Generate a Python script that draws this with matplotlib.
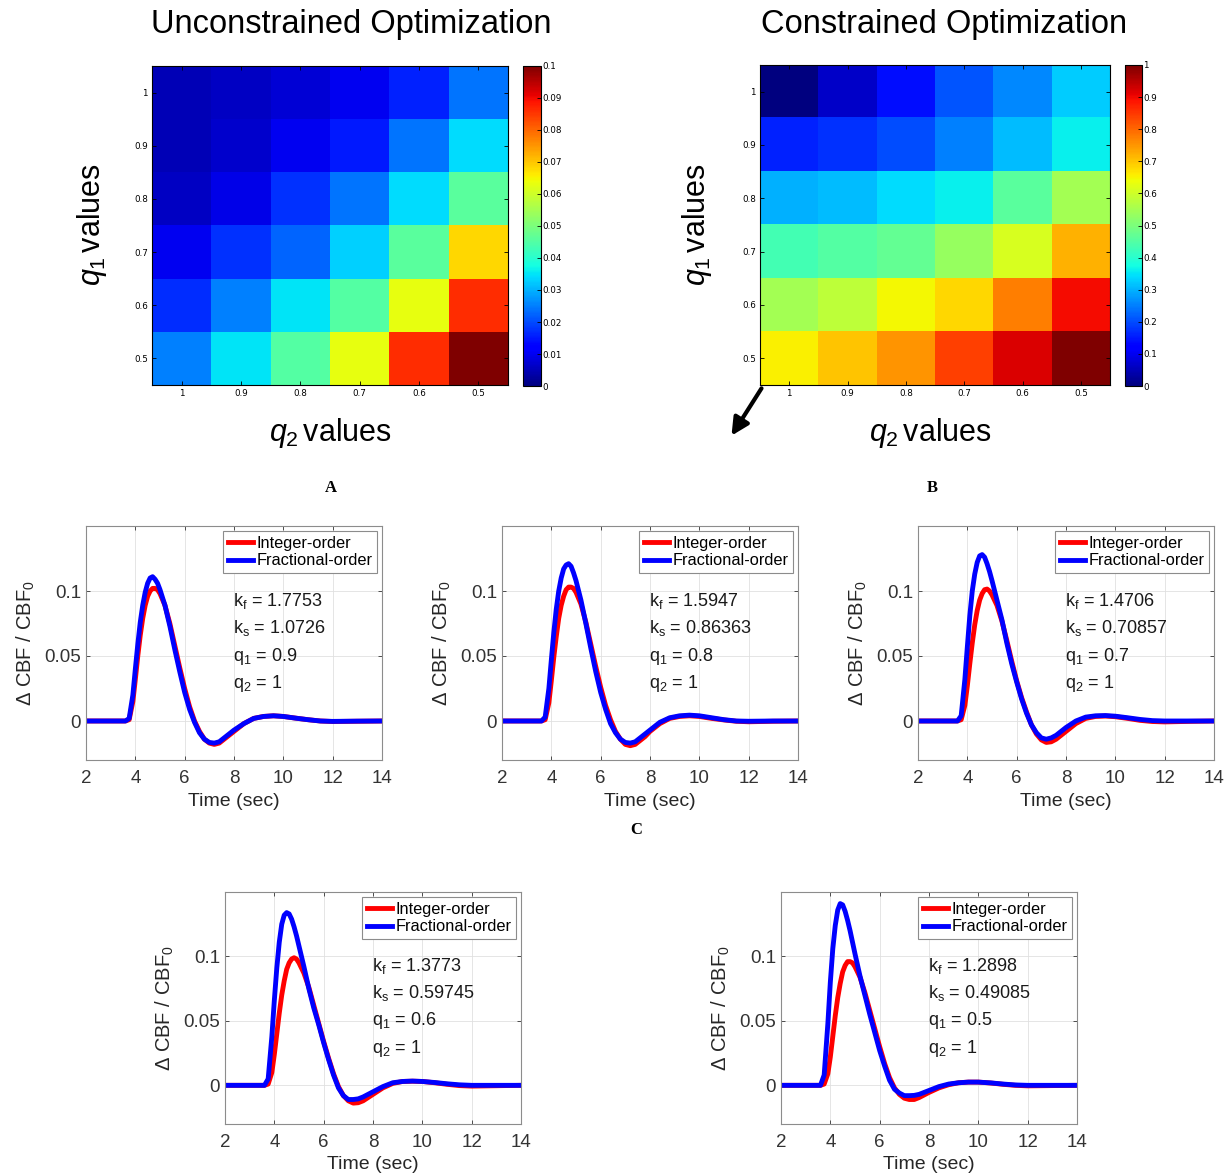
import numpy as np
import matplotlib
matplotlib.use('Agg')
import matplotlib.pyplot as plt
from matplotlib.patches import FancyArrowPatch

plt.rcParams['font.family'] = ['Liberation Sans', 'DejaVu Sans']
plt.rcParams['mathtext.fontset'] = 'custom'
plt.rcParams['mathtext.rm'] = 'Liberation Sans'
plt.rcParams['mathtext.it'] = 'Liberation Sans:italic'
plt.rcParams['mathtext.default'] = 'regular'

# heatmap data (rows: q1 = 1 ... 0.5, cols: q2 = 1 ... 0.5)
q1_labels = ['1', '0.9', '0.8', '0.7', '0.6', '0.5']
q2_labels = ['1', '0.9', '0.8', '0.7', '0.6', '0.5']
unconstrained = [
    [0.005, 0.006, 0.0075, 0.010, 0.016, 0.024],
    [0.005, 0.007, 0.010, 0.015, 0.024, 0.034],
    [0.006, 0.009, 0.0175, 0.024, 0.034, 0.046],
    [0.010, 0.0175, 0.0225, 0.033, 0.046, 0.068],
    [0.017, 0.025, 0.035, 0.045, 0.063, 0.086],
    [0.025, 0.035, 0.045, 0.063, 0.086, 0.100],
]
constrained = [
    [0.00, 0.066, 0.14, 0.21, 0.26, 0.325],
    [0.16, 0.175, 0.20, 0.25, 0.31, 0.36],
    [0.30, 0.31, 0.34, 0.36, 0.46, 0.55],
    [0.43, 0.45, 0.47, 0.535, 0.61, 0.72],
    [0.55, 0.58, 0.645, 0.68, 0.775, 0.895],
    [0.655, 0.70, 0.75, 0.84, 0.92, 1.00],
]

# time response data
t = [2, 3, 3.6, 3.75, 3.9, 4.0, 4.1, 4.2, 4.3, 4.4, 4.5, 4.6, 4.7, 4.8, 4.9,
     5.0, 5.2, 5.4, 5.6, 5.8, 6.0, 6.2, 6.4, 6.6, 6.8, 7.0, 7.2, 7.4, 7.6,
     7.8, 8.0, 8.4, 8.8, 9.2, 9.6, 10.0, 10.5, 11.0, 11.5, 12.0, 13.0, 14.0]

int_q09 = [0, 0, 0, 0.001, 0.015, 0.032, 0.050, 0.066, 0.079, 0.089, 0.096, 0.100, 0.102, 0.102, 0.101,
           0.098, 0.089, 0.075, 0.058, 0.041, 0.025, 0.011, 0.000, -0.008, -0.014, -0.017, -0.018, -0.017, -0.014,
           -0.011, -0.008, -0.002, 0.002, 0.0035, 0.004, 0.0035, 0.0022, 0.001, 0.0, -0.0004, -0.0002, 0]
frac_q09 = [0, 0, 0, 0.002, 0.020, 0.040, 0.059, 0.076, 0.089, 0.099, 0.106, 0.110, 0.111, 0.109, 0.106,
            0.101, 0.089, 0.073, 0.055, 0.038, 0.022, 0.009, -0.001, -0.009, -0.014, -0.0165, -0.017, -0.016, -0.013,
            -0.010, -0.007, -0.002, 0.002, 0.0035, 0.004, 0.0035, 0.0022, 0.001, 0.0, -0.0003, -0.0001, 0]

int_q08 = [0, 0, 0, 0.001, 0.014, 0.031, 0.049, 0.065, 0.079, 0.089, 0.096, 0.101, 0.103, 0.103, 0.102,
           0.099, 0.090, 0.076, 0.059, 0.042, 0.026, 0.012, 0.001, -0.008, -0.014, -0.018, -0.019, -0.018, -0.015,
           -0.012, -0.008, -0.002, 0.002, 0.0035, 0.004, 0.0035, 0.002, 0.0008, -0.0002, -0.0006, -0.0002, 0]
frac_q08 = [0, 0, 0, 0.003, 0.025, 0.047, 0.068, 0.086, 0.100, 0.110, 0.117, 0.120, 0.121, 0.119, 0.114,
            0.108, 0.093, 0.075, 0.056, 0.038, 0.022, 0.009, -0.002, -0.009, -0.014, -0.0165, -0.017, -0.016, -0.013,
            -0.010, -0.007, -0.001, 0.0025, 0.004, 0.0045, 0.004, 0.0025, 0.001, 0.0, -0.0002, 0, 0]

int_q07 = [0, 0, 0, 0.001, 0.012, 0.027, 0.044, 0.060, 0.074, 0.085, 0.093, 0.098, 0.101, 0.1015, 0.100,
           0.097, 0.089, 0.077, 0.062, 0.046, 0.031, 0.018, 0.007, -0.003, -0.010, -0.0145, -0.0165, -0.016, -0.014,
           -0.011, -0.008, -0.002, 0.002, 0.0035, 0.0038, 0.0033, 0.002, 0.0005, -0.0004, -0.0007, -0.0003, 0]
frac_q07 = [0, 0, 0, 0.004, 0.032, 0.057, 0.081, 0.100, 0.113, 0.122, 0.127, 0.128, 0.126, 0.121, 0.115,
            0.108, 0.093, 0.078, 0.060, 0.044, 0.030, 0.017, 0.006, -0.003, -0.009, -0.013, -0.014, -0.013, -0.011,
            -0.008, -0.005, 0.0, 0.003, 0.004, 0.0042, 0.0037, 0.0025, 0.0012, 0.0003, 0, 0, 0]

int_q06 = [0, 0, 0, 0.001, 0.010, 0.024, 0.040, 0.056, 0.070, 0.081, 0.090, 0.095, 0.098, 0.099, 0.098,
           0.095, 0.087, 0.076, 0.062, 0.048, 0.034, 0.021, 0.009, -0.001, -0.008, -0.012, -0.0138, -0.0135, -0.012,
           -0.0095, -0.007, -0.002, 0.0015, 0.003, 0.0032, 0.003, 0.002, 0.0008, -0.0002, -0.0006, -0.0003, 0]
frac_q06 = [0, 0, 0, 0.005, 0.038, 0.066, 0.091, 0.111, 0.125, 0.132, 0.134, 0.133, 0.129, 0.123, 0.116,
            0.108, 0.092, 0.075, 0.060, 0.047, 0.033, 0.020, 0.008, -0.002, -0.008, -0.011, -0.011, -0.0105, -0.009,
            -0.007, -0.005, -0.001, 0.002, 0.003, 0.0033, 0.003, 0.0022, 0.0012, 0.0004, 0, 0, 0]

int_q05 = [0, 0, 0, 0.001, 0.009, 0.022, 0.038, 0.054, 0.068, 0.079, 0.088, 0.093, 0.096, 0.096, 0.095,
           0.092, 0.084, 0.072, 0.058, 0.044, 0.030, 0.017, 0.006, -0.002, -0.007, -0.010, -0.011, -0.011, -0.0095,
           -0.0075, -0.0055, -0.002, 0.0005, 0.002, 0.0025, 0.0025, 0.0018, 0.0008, 0.0, -0.0004, -0.0002, 0]
frac_q05 = [0, 0, 0, 0.008, 0.048, 0.080, 0.106, 0.124, 0.136, 0.141, 0.140, 0.135, 0.128, 0.120, 0.111,
            0.102, 0.085, 0.070, 0.055, 0.041, 0.027, 0.015, 0.004, -0.003, -0.006, -0.008, -0.008, -0.0078, -0.007,
            -0.0055, -0.004, -0.001, 0.001, 0.002, 0.0025, 0.0025, 0.0019, 0.001, 0.0003, 0, 0, 0]

panels = [
    (int_q09, frac_q09, ['1.7753', '1.0726', '0.9', '1']),
    (int_q08, frac_q08, ['1.5947', '0.86363', '0.8', '1']),
    (int_q07, frac_q07, ['1.4706', '0.70857', '0.7', '1']),
    (int_q06, frac_q06, ['1.3773', '0.59745', '0.6', '1']),
    (int_q05, frac_q05, ['1.2898', '0.49085', '0.5', '1']),
]

W, H = 1232, 1176


def px(l, tp, r, b):
    return [l / W, 1 - b / H, (r - l) / W, (b - tp) / H]


fig = plt.figure(figsize=(W / 100, H / 100), dpi=100)

# ---- heatmaps ----
heat = [
    (unconstrained, 0.1, np.arange(0, 0.1001, 0.01), ['0', '0.01', '0.02', '0.03', '0.04', '0.05', '0.06', '0.07', '0.08', '0.09', '0.1'],
     px(152, 66, 508, 385), px(523, 66, 541, 386), 'Unconstrained Optimization', 351, 330, 92),
    (constrained, 1.0, np.arange(0, 1.001, 0.1), ['0', '0.1', '0.2', '0.3', '0.4', '0.5', '0.6', '0.7', '0.8', '0.9', '1'],
     px(760, 65, 1110, 385), px(1125, 65, 1142, 386), 'Constrained Optimization', 944, 930, 697),
]
for data, vmax, cticks, clabels, pos, cpos, title, tx, q2x, q1x in heat:
    ax = fig.add_axes(pos)
    im = ax.imshow(np.array(data), cmap='jet', vmin=0, vmax=vmax, aspect='auto', interpolation='nearest')
    ax.set_xticks(range(6))
    ax.set_xticklabels(q2_labels, family='DejaVu Sans')
    ax.set_yticks(range(6))
    ax.set_yticklabels(q1_labels, family='DejaVu Sans')
    ax.tick_params(direction='in', length=3, width=0.6, labelsize=6.3, top=True, right=True, pad=3)
    for s in ax.spines.values():
        s.set_linewidth(0.8)
    cax = fig.add_axes(cpos)
    cb = fig.colorbar(im, cax=cax)
    cb.set_ticks(cticks)
    cb.set_ticklabels(clabels)
    cb.ax.tick_params(direction='in', length=3, width=0.6, labelsize=6.3, pad=1)
    for lab in cb.ax.get_yticklabels():
        lab.set_family('DejaVu Sans')
    cb.outline.set_linewidth(0.8)
    fig.text(tx / W, 1 - 25 / H, title, ha='center', va='center', fontsize=23.5)
    fig.text(q2x / W, 1 - 433 / H, r'$\mathit{q}_\mathit{2}\!\ \mathrm{values}$', ha='center', va='center', fontsize=22)
    fig.text(q1x / W, 1 - 225 / H, r'$\mathit{q}_\mathit{1}\!\ \mathrm{values}$', ha='center', va='center',
             fontsize=22, rotation=90)

# arrow under constrained map
arrow = FancyArrowPatch((763 / W, 1 - 386 / H), (730 / W, 1 - 438 / H), transform=fig.transFigure,
                        arrowstyle='-|>', mutation_scale=26, lw=3, color='black')
fig.add_artist(arrow)

# panel letters
for letter, x, y in [('A', 331, 488), ('B', 932, 488), ('C', 636, 830)]:
    fig.text(x / W, 1 - y / H, letter, ha='center', va='center', fontsize=12,
             family='Liberation Serif', weight='bold')

# ---- time responses ----
line_pos = [px(86, 526, 382, 760), px(502, 526, 798, 760), px(918, 526, 1214, 760),
            px(225, 892, 521, 1124), px(781, 892, 1077, 1124)]
for (yi, yf, vals), pos in zip(panels, line_pos):
    ax = fig.add_axes(pos)
    ax.plot(t, yi, color='red', lw=3.5, label='Integer-order')
    ax.plot(t, yf, color='blue', lw=3.5, label='Fractional-order')
    ax.set_xlim(2, 14)
    ax.set_ylim(-0.03, 0.15)
    ax.set_xticks(range(2, 15, 2))
    ax.set_yticks([0, 0.05, 0.1])
    ax.set_yticklabels(['0', '0.05', '0.1'])
    ax.grid(True, color='0.88', lw=0.6)
    ax.tick_params(direction='in', length=3, width=0.6, labelsize=13.5, colors='0.2',
                   top=True, right=True)
    ax.tick_params(axis='x', pad=7)
    for s in ax.spines.values():
        s.set_color('0.55')
        s.set_linewidth(0.8)
    ax.set_xlabel('Time (sec)', fontsize=14, color='0.15')
    ax.xaxis.set_label_coords(0.5, -0.14)
    ax.set_ylabel(r'Δ CBF / CBF$_0$', fontsize=14.5, color='0.15')
    ax.yaxis.set_label_coords(-0.165, 0.5)
    leg = ax.legend(loc='upper right', fontsize=11.8, handlelength=1.5, handletextpad=0.2,
                    borderpad=0.3, labelspacing=0.15, borderaxespad=0.3, fancybox=False,
                    framealpha=1)
    leg.get_frame().set_edgecolor('0.55')
    leg.get_frame().set_linewidth(0.8)
    names = ['k$_f$', 'k$_s$', 'q$_1$', 'q$_2$']
    for i, (nm, v) in enumerate(zip(names, vals)):
        ax.text(0.495, 0.659 - 0.117 * i, nm + ' = ' + v, transform=ax.transAxes,
                fontsize=13, va='baseline', ha='left', color='0.1')

fig.savefig('out.png', dpi=100)
